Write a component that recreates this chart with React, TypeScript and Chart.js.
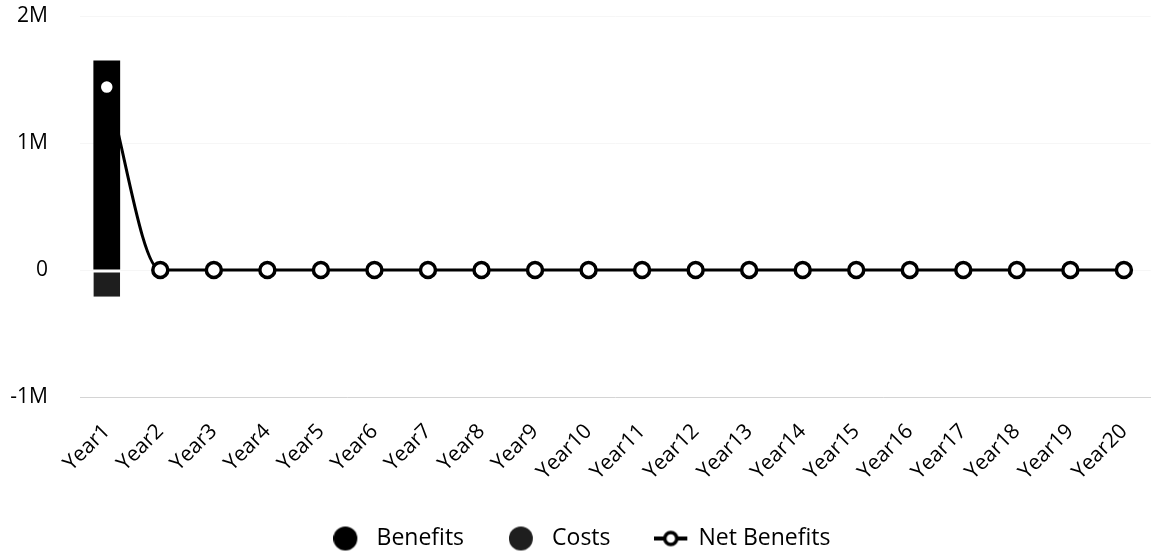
import React, { useEffect, useRef } from "react";
import { Chart, registerables } from "chart.js";

Chart.register(...registerables);

const labels = [
  "Year1", "Year2", "Year3", "Year4", "Year5", "Year6", "Year7", "Year8", "Year9", "Year10",
  "Year11", "Year12", "Year13", "Year14", "Year15", "Year16", "Year17", "Year18", "Year19", "Year20",
];
const benefits = [1650000, null, null, null, null, null, null, null, null, null, null, null, null, null, null, null, null, null, null, null];
const costs = [-210000, null, null, null, null, null, null, null, null, null, null, null, null, null, null, null, null, null, null, null];
const netBenefits = [1440000, 0, 0, 0, 0, 0, 0, 0, 0, 0, 0, 0, 0, 0, 0, 0, 0, 0, 0, 0];
const yTickValues = [-1000000, 0, 1000000, 2000000];
const yTickLabels = ["-1M", "0", "1M", "2M"];
const legendOrder = ["Benefits", "Costs", "Net Benefits"];

const FONT = "'Open Sans', sans-serif";
const BENEFIT_COLOR = "#000000";
const COST_COLOR = "#1e1e1e";
const BOX_W = 31.5;

function makeCircleMarker(color: string): HTMLCanvasElement {
  const c = document.createElement("canvas");
  c.width = 32;
  c.height = 26;
  const ctx = c.getContext("2d")!;
  ctx.fillStyle = color;
  ctx.beginPath();
  ctx.arc(12, 13, 12, 0, Math.PI * 2);
  ctx.fill();
  return c;
}

function makeLineMarker(): HTMLCanvasElement {
  const c = document.createElement("canvas");
  c.width = 34;
  c.height = 22;
  const ctx = c.getContext("2d")!;
  ctx.strokeStyle = "#000";
  ctx.lineWidth = 4;
  ctx.beginPath();
  ctx.moveTo(0, 11);
  ctx.lineTo(33, 11);
  ctx.stroke();
  ctx.beginPath();
  ctx.arc(16.5, 11, 6, 0, Math.PI * 2);
  ctx.fillStyle = "#fff";
  ctx.fill();
  ctx.lineWidth = 3.5;
  ctx.stroke();
  return c;
}

export default function App() {
  const ref = useRef<HTMLCanvasElement | null>(null);
  useEffect(() => {
    if (!ref.current) return;
    const markers: Record<string, HTMLCanvasElement> = {
      "Benefits": makeCircleMarker(BENEFIT_COLOR),
      "Costs": makeCircleMarker(COST_COLOR),
      "Net Benefits": makeLineMarker(),
    };
    const chart = new Chart(ref.current, {
      type: "bar",
      data: {
        labels,
        datasets: [
          {
            type: "line",
            label: "Net Benefits",
            data: netBenefits,
            stack: "net",
            borderColor: "#000",
            borderWidth: 3,
            backgroundColor: "#fff",
            pointBackgroundColor: "#fff",
            pointBorderColor: "#000",
            pointBorderWidth: 3.5,
            pointRadius: 7.5,
            cubicInterpolationMode: "monotone",
            fill: false,
          } as any,
          {
            type: "bar",
            label: "Benefits",
            data: benefits,
            stack: "bars",
            backgroundColor: BENEFIT_COLOR,
            borderWidth: 0,
            barPercentage: 0.5,
            categoryPercentage: 1,
          },
          {
            type: "bar",
            label: "Costs",
            data: costs,
            stack: "bars",
            backgroundColor: COST_COLOR,
            borderColor: "#fff",
            borderWidth: { top: 2, left: 0, right: 0, bottom: 0 },
            borderSkipped: false,
            barPercentage: 0.5,
            categoryPercentage: 1,
          } as any,
        ],
      },
      options: {
        animation: false,
        responsive: false,
        maintainAspectRatio: false,
        layout: { padding: { left: 0, right: 0, top: 16, bottom: -2 } },
        scales: {
          x: {
            stacked: true,
            grid: { display: false, drawTicks: false },
            border: { display: true, color: "#d4d4d4", dash: [1, 3], width: 1 },
            afterFit: (axis: any) => {
              axis.height = 85;
            },
            ticks: {
              color: "#000",
              font: { family: FONT, size: 21 },
              minRotation: 45,
              maxRotation: 45,
              padding: 22,
            },
          },
          y: {
            stacked: true,
            min: -1000000,
            max: 2000000,
            grid: { color: "rgba(0,0,0,0.035)", drawTicks: false },
            border: { display: false },
            afterFit: (axis: any) => {
              axis.width = 80;
              axis.paddingTop = 0;
            },
            afterBuildTicks: (axis: any) => {
              axis.ticks = yTickValues.map((v) => ({ value: v }));
            },
            ticks: {
              color: "#000",
              font: { family: FONT, size: 21 },
              padding: 32,
              callback: (v: any) => {
                const i = yTickValues.indexOf(Number(v));
                return i >= 0 ? yTickLabels[i] : "";
              },
            },
          },
        },
        plugins: {
          tooltip: { enabled: false },
          legend: {
            position: "bottom",
            labels: {
              color: "#000",
              font: { family: FONT, size: 23 },
              usePointStyle: true,
              pointStyleWidth: BOX_W,
              boxHeight: 23,
              padding: 45,
              sort: (a: any, b: any) => legendOrder.indexOf(a.text) - legendOrder.indexOf(b.text),
              generateLabels: (ch: any) => {
                const items = Chart.defaults.plugins.legend.labels.generateLabels(ch);
                return items.map((it: any) => ({ ...it, pointStyle: markers[it.text], lineWidth: 0 }));
              },
            },
          },
        },
      },
    });
    return () => chart.destroy();
  }, []);

  return (
    <div style={{ position: "absolute", left: 0, top: 0, width: 1156, height: 558, overflow: "hidden", background: "#fff" }}>
      <div style={{ position: "absolute", left: 0, top: 0, width: 1164, height: 558 }}>
        <canvas ref={ref} width={1164} height={558} style={{ width: 1164, height: 558 }} />
      </div>
    </div>
  );
}
